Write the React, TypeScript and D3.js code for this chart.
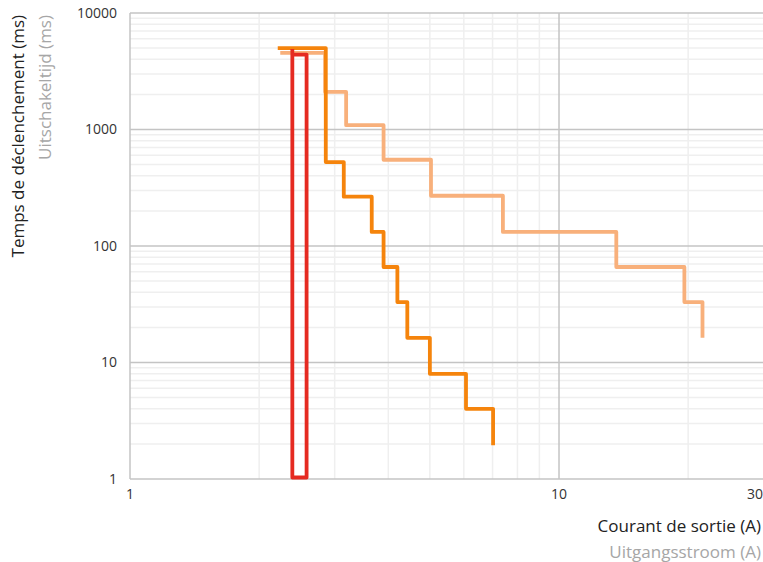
import React from 'react';
import * as d3 from 'd3';

// dark orange curve (A, ms)
const curveAx = [2.21, 2.86, 2.86, 3.15, 3.15, 3.66, 3.66, 3.9, 3.9, 4.2, 4.2, 4.43, 4.43, 5.0, 5.0, 6.07, 6.07, 7.02, 7.02];
const curveAy = [5000, 5000, 525, 525, 265, 265, 132, 132, 66, 66, 33, 33, 16.3, 16.3, 8, 8, 4, 4, 1.95];

// light orange curve
const curveBx = [2.24, 2.85, 2.85, 3.19, 3.19, 3.9, 3.9, 5.03, 5.03, 7.4, 7.4, 13.6, 13.6, 19.6, 19.6, 21.6, 21.6];
const curveBy = [4550, 4550, 2100, 2100, 1090, 1090, 550, 550, 270, 270, 132, 132, 66, 66, 33, 33, 16.3];

// red box
const curveCx = [2.39, 2.39, 2.58, 2.58, 2.39];
const curveCy = [4900, 1.03, 1.03, 4400, 4400];

const yTicks = [1, 10, 100, 1000, 10000];
const xTicks = [1, 10, 30];
const xMinor = [2, 3, 4, 5, 6, 7, 8, 9, 20];

const W = 763;
const H = 562;
const font = '"Open Sans", sans-serif';

export default function App() {
  const x = d3.scaleLog().domain([1, 30]).range([130, 763.7]);
  const y = d3.scaleLog().domain([1, 10000]).range([479, 13]);

  const yMinor: number[] = [];
  for (let d = 1; d < 10000; d *= 10) {
    for (let k = 2; k <= 9; k++) yMinor.push(d * k);
  }

  const line = d3
    .line<[number, number]>()
    .x((d) => x(d[0]))
    .y((d) => y(d[1]));

  const series = [
    { xs: curveBx, ys: curveBy, color: '#f8b07b' },
    { xs: curveAx, ys: curveAy, color: '#f5840c' },
    { xs: curveCx, ys: curveCy, color: '#e52a21' },
  ];

  return (
    <svg width={W} height={H} style={{ position: 'absolute', left: 0, top: 0 }}>
      <g>
        {yMinor.map((v) => (
          <line key={'ym' + v} x1={130} x2={W} y1={y(v)} y2={y(v)} stroke="#efefef" strokeWidth={1.5} />
        ))}
        {xMinor.map((v) => (
          <line key={'xm' + v} x1={x(v)} x2={x(v)} y1={13} y2={479} stroke="#efefef" strokeWidth={1.5} />
        ))}
        {yTicks.slice(1).map((v) => (
          <line key={'yM' + v} x1={130} x2={W} y1={y(v)} y2={y(v)} stroke="#c4c4c4" strokeWidth={1.5} />
        ))}
        <line x1={x(10)} x2={x(10)} y1={13} y2={479} stroke="#c4c4c4" strokeWidth={1.5} />
        <line x1={130} x2={W} y1={479} y2={479} stroke="#c4c4c4" strokeWidth={1.5} />
        <line x1={130} x2={130} y1={13} y2={479} stroke="#c4c4c4" strokeWidth={1.5} />
      </g>

      {series.map((s, i) => (
        <path
          key={i}
          d={line(s.xs.map((v, j) => [v, s.ys[j]] as [number, number])) || ''}
          fill="none"
          stroke={s.color}
          strokeWidth={3.8}
          strokeLinejoin="round"
        />
      ))}

      <g fontFamily={font} fontSize={14} fill="#333">
        {yTicks.map((v) => (
          <text key={'yt' + v} x={117} y={y(v)} dy="0.35em" textAnchor="end">
            {v}
          </text>
        ))}
        {xTicks.map((v) => (
          <text key={'xt' + v} x={Math.min(x(v), W - 8)} y={499} textAnchor="middle">
            {v}
          </text>
        ))}
      </g>

      <g fontFamily={font} fontSize={17}>
        <text transform="translate(24,15) rotate(-90)" textAnchor="end" fill="#222">
          Temps de déclenchement (ms)
        </text>
        <text transform="translate(51,15) rotate(-90)" textAnchor="end" fill="#a6a6a6">
          Uitschakeltijd (ms)
        </text>
        <text x={761} y={532} textAnchor="end" fill="#222">
          Courant de sortie (A)
        </text>
        <text x={761} y={558} textAnchor="end" fill="#a6a6a6">
          Uitgangsstroom (A)
        </text>
      </g>
    </svg>
  );
}
